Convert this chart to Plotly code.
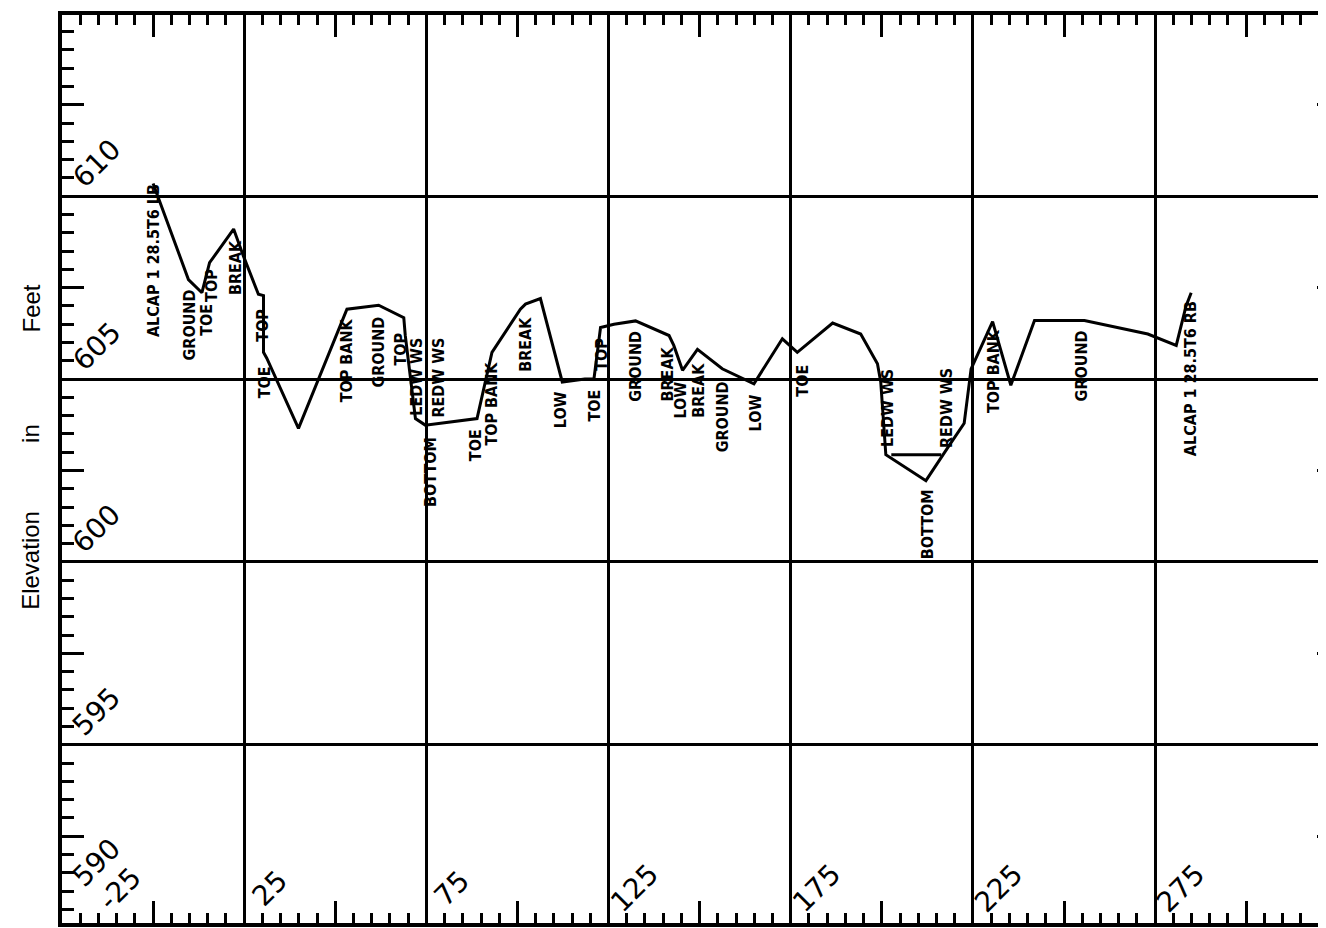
import plotly.graph_objects as go

# ---- data ----
station = [0.0, 9.7, 13.4, 15.5, 22.1, 24.8, 28.9, 30.3, 30.3, 31.2, 39.9, 53.2, 61.9, 68.8, 69.2, 72.0, 74.7,
           88.9, 93.0, 100.8, 102.2, 106.3, 112.3, 118.5, 121.0, 122.8, 126.5, 132.4, 141.6, 142.9, 145.3, 149.4,
           156.2, 164.9, 172.7, 176.8, 186.5, 194.2, 198.8, 199.7, 201.1, 212.1, 218.0, 222.6, 224.5, 230.4,
           235.4, 241.9, 255.6, 273.0, 280.8, 283.5, 284.9]
elevation = [610.35, 607.72, 607.36, 608.18, 609.10, 608.36, 607.32, 607.28, 605.73, 605.57, 603.65, 606.91,
             607.02, 606.68, 606.20, 603.92, 603.74, 603.92, 605.73, 606.91, 607.05, 607.20, 604.92, 605.00,
             605.01, 606.41, 606.50, 606.59, 606.19, 605.92, 605.24, 605.81, 605.28, 604.87, 606.10, 605.73,
             606.53, 606.23, 605.42, 604.92, 602.93, 602.22, 603.11, 603.79, 605.28, 606.57, 604.83, 606.60,
             606.60, 606.23, 605.92, 607.00, 607.36]

ws_station = [202.6, 216.3]
ws_elev = [602.93, 602.93]

label_text = ["ALCAP 1 28.5T6 LB", "GROUND", "TOE", "TOP", "BREAK", "TOP", "TOE", "TOP BANK", "GROUND", "TOP",
              "LEDW WS", "REDW WS", "BOTTOM", "TOE", "TOP BANK", "BREAK", "LOW", "TOE", "TOP", "GROUND",
              "BREAK", "LOW", "BREAK", "GROUND", "LOW", "TOE", "LEDW WS", "BOTTOM", "REDW WS", "TOP BANK",
              "GROUND", "ALCAP 1 28.5T6 RB"]
label_x = [0.3, 9.9, 14.6, 16.2, 22.8, 30.0, 30.8, 53.0, 61.8, 67.9, 72.3, 78.3, 76.1, 88.5, 92.9, 102.2,
           111.8, 121.2, 123.1, 132.4, 141.2, 144.8, 149.5, 156.3, 165.4, 178.3, 201.7, 212.4, 217.9, 230.5,
           254.7, 284.6]
label_y = [608.23, 606.47, 606.63, 607.55, 608.04, 606.47, 604.92, 605.52, 605.73, 605.82, 605.05, 605.05,
           602.47, 603.18, 604.32, 605.95, 604.16, 604.27, 605.68, 605.35, 605.14, 604.43, 604.70, 603.97,
           604.08, 604.95, 604.21, 601.03, 604.21, 605.22, 605.35, 605.0]

x_tick_labels = [-25, 25, 75, 125, 175, 225, 275]
y_tick_labels = [610, 605, 600, 595, 590]
y_title_words = ["Elevation", "in", "Feet"]
y_title_pos = [600.03, 603.5, 606.93]

X_RANGE = [-25, 321.9]
Y_RANGE = [590.125, 614.955]

fig = go.Figure()
fig.add_trace(go.Scatter(x=station, y=elevation, mode="lines",
                         line=dict(color="black", width=3), hoverinfo="skip", showlegend=False))
fig.add_trace(go.Scatter(x=ws_station, y=ws_elev, mode="lines",
                         line=dict(color="black", width=3), hoverinfo="skip", showlegend=False))
# helper traces so the tick axes are drawn
fig.add_trace(go.Scatter(x=[], y=[], xaxis="x2", yaxis="y2", showlegend=False))
fig.add_trace(go.Scatter(x=[], y=[], xaxis="x", yaxis="y3", showlegend=False))

ann = []
for t, xv, yv in zip(label_text, label_x, label_y):
    ann.append(dict(x=xv, y=yv, xref="x", yref="y", text="<b>" + t + "</b>", showarrow=False,
                    textangle=-90, xanchor="center", yanchor="middle",
                    font=dict(family="Liberation Sans Narrow, DejaVu Sans Condensed, Arial Narrow, Liberation Sans",
                              size=16, color="black")))
num_font = dict(family="DejaVu Sans", size=28, color="black")
for v in x_tick_labels:
    off = 16 if v == x_tick_labels[0] else 7
    ann.append(dict(x=v + off, y=591.07, xref="x", yref="y", text=str(v), showarrow=False,
                    textangle=-45, xanchor="center", yanchor="middle", font=num_font))
for v in y_tick_labels:
    off = 1.77 if v == y_tick_labels[-1] else 0.9
    ann.append(dict(x=-15.5, y=v + off, xref="x", yref="y", text=str(v), showarrow=False,
                    textangle=-45, xanchor="center", yanchor="middle", font=num_font))
for w, yv in zip(y_title_words, y_title_pos):
    ann.append(dict(x=-0.0245, y=yv, xref="paper", yref="y", text=w, showarrow=False,
                    textangle=-90, xanchor="center", yanchor="middle",
                    font=dict(family="Liberation Sans", size=24, color="black")))

fig.update_layout(
    width=1326, height=928,
    margin=dict(l=54, r=8, t=3, b=13),
    paper_bgcolor="white", plot_bgcolor="white",
    showlegend=False,
    xaxis=dict(range=X_RANGE, tickmode="linear", tick0=-25, dtick=50, showgrid=True,
               gridcolor="black", gridwidth=3, showticklabels=False, ticks="",
               zeroline=False, showline=False, fixedrange=True),
    xaxis2=dict(range=X_RANGE, overlaying="x", anchor="y", side="bottom", tickmode="linear", tick0=0, dtick=25,
                ticks="inside", ticklen=22, tickwidth=3, tickcolor="black",
                minor=dict(tickmode="linear", tick0=0, dtick=5, ticks="inside", ticklen=10, tickwidth=2.5,
                           tickcolor="black", showgrid=False),
                showline=True, linecolor="black", linewidth=4, mirror="ticks",
                showgrid=False, showticklabels=False, zeroline=False),
    yaxis=dict(range=Y_RANGE, tickmode="linear", tick0=590, dtick=5, showgrid=True,
               gridcolor="black", gridwidth=3, showticklabels=False, ticks="",
               zeroline=False, showline=False, fixedrange=True),
    yaxis2=dict(range=Y_RANGE, overlaying="y", anchor="x", side="left", tickmode="linear", tick0=590, dtick=2.5,
                ticks="inside", ticklen=22, tickwidth=3, tickcolor="black",
                minor=dict(tickmode="linear", tick0=590, dtick=0.5, ticks="inside", ticklen=12, tickwidth=2.5,
                           tickcolor="black", showgrid=False),
                showline=True, linecolor="black", linewidth=4,
                showgrid=False, showticklabels=False, zeroline=False),
    yaxis3=dict(range=Y_RANGE, overlaying="y", anchor="x", side="right", tickmode="linear", tick0=592.5, dtick=5,
                ticks="inside", ticklen=9, tickwidth=3, tickcolor="black",
                showline=False, showgrid=False, showticklabels=False, zeroline=False),
    annotations=ann,
)

fig.write_html("out.html")
